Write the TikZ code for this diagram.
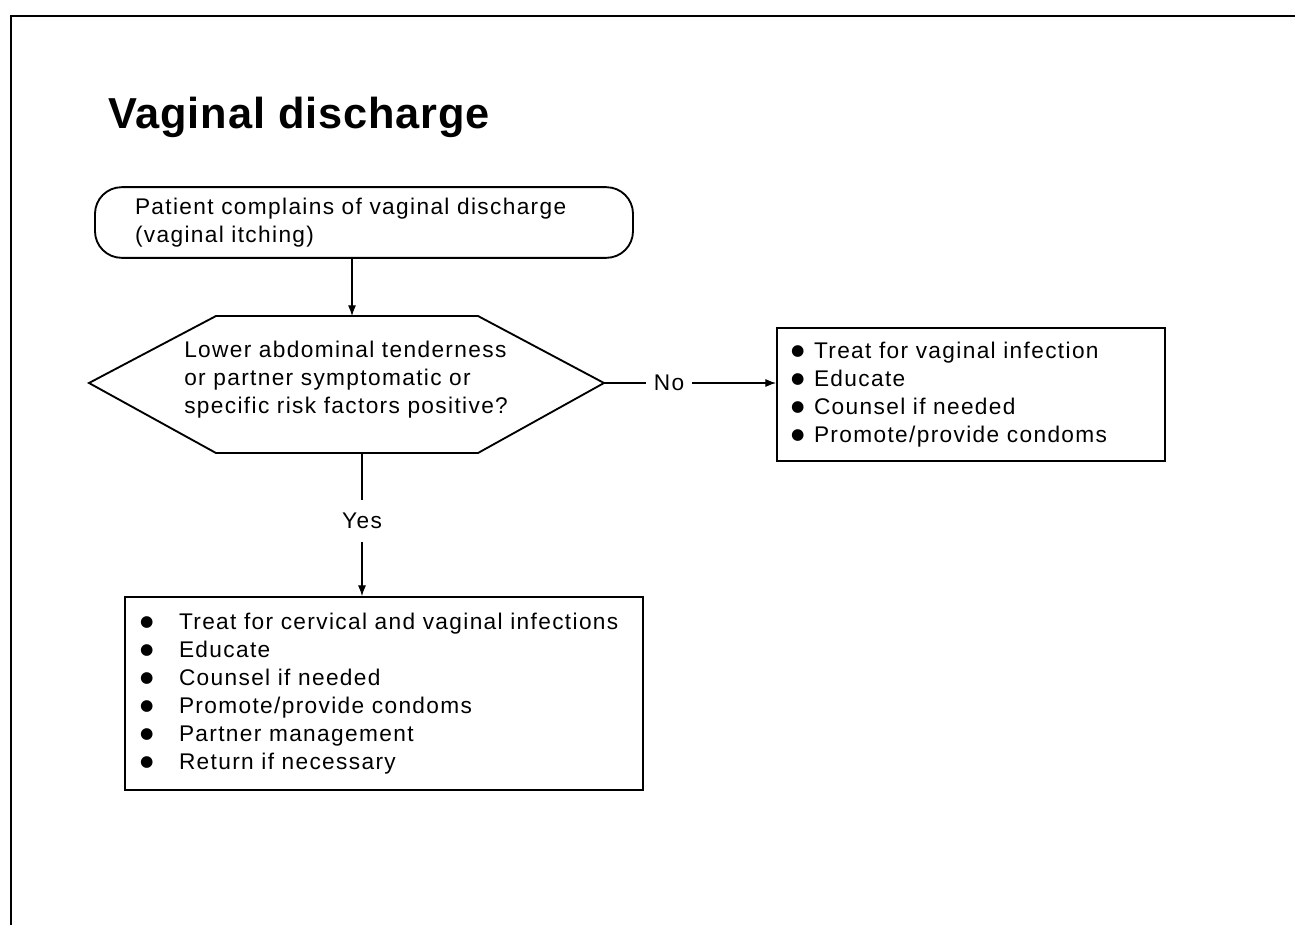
\documentclass[tikz,border=0pt]{standalone}
\usepackage{fontspec}
\setmainfont{Liberation Sans}[LetterSpace=6]
\newfontfamily\titlefont{Liberation Sans}[LetterSpace=2]
\newfontfamily\dotfont{DejaVu Sans}
\usetikzlibrary{arrows.meta}

% bullets with a fixed gap before the text
\newcommand{\bigbul}{\raisebox{2.2pt}{\dotfont\fontsize{11.5pt}{12pt}\selectfont ●}}
\newcommand{\nbul}{\makebox[17.25pt][l]{\bigbul}}
\newcommand{\wbul}{\makebox[29.25pt][l]{\bigbul}}

\tikzset{
  txt/.style={font=\fontsize{17pt}{21pt}\selectfont},
  frame/.style={draw, line width=1.4pt},
  roundbox/.style={frame, txt, rounded corners=20pt, align=left},
  listbox/.style={frame, txt, align=left, inner ysep=0pt},
  label/.style={txt, inner sep=0pt},
  arrow/.style={line width=0.8pt, -{Latex[length=8pt,width=6pt]}},
  link/.style={line width=0.8pt}
}

\begin{document}
\begin{tikzpicture}[x=0.75pt,y=0.75pt,yscale=-1,xscale=1]
\useasboundingbox (0,0) rectangle (1295,925);

%Page border, open at the right and bottom
\draw [line width=1.8pt] (11,925) -- (11,16) -- (1295,16) ;

% Title
\node [anchor=base west, inner sep=0pt, font=\titlefont\bfseries\fontsize{32.5pt}{36pt}\selectfont] (title) at (108,128) {Vaginal discharge};

%Rounded Rect: start
\node [roundbox, minimum width=403.5pt, minimum height=53pt, text width=343.5pt, inner xsep=30pt] (complaint) at (364,222.5)
  {Patient complains of vaginal discharge\\(vaginal itching)};

%Shape: Hexagon (decision)
\coordinate (qw) at (89,383);
\coordinate (qnw) at (216,316);
\coordinate (qne) at (478,316);
\coordinate (qe) at (604,383);
\coordinate (qse) at (478,453);
\coordinate (qsw) at (216,453);
\draw [frame] (qw) -- (qnw) -- (qne) -- (qe) -- (qse) -- (qsw) -- cycle ;
\node [label, anchor=west, text width=255pt, align=left] (question) at (184,380)
  {Lower abdominal tenderness\\or partner symptomatic or\\specific risk factors positive?};
\coordinate (qtop) at (352,316);
\coordinate (qbottom) at (362,453);

% No branch
\node [listbox, minimum width=291pt, minimum height=99.75pt, text width=270pt, inner xsep=10.5pt] (vaginal) at (971,394.5)
  {\nbul Treat for vaginal infection\\\nbul Educate\\\nbul Counsel if needed\\\nbul Promote/provide condoms};
\node [label, minimum width=34.5pt] (no) at (669,383) {No};

% Yes branch
\node [label, minimum height=31.5pt] (yes) at (362,521) {Yes};
\node [listbox, minimum width=388.5pt, minimum height=144.75pt, text width=366pt, inner xsep=11.25pt] (cervical) at (384,693.5)
  {\wbul Treat for cervical and vaginal infections\\\wbul Educate\\\wbul Counsel if needed\\\wbul Promote/provide condoms\\\wbul Partner management\\\wbul Return if necessary};

%Straight Lines
\draw [arrow] (complaint.south -| qtop) -- (qtop) ;
\draw [link] (qe) -- (no.west) ;
\draw [arrow] (no.east) -- (vaginal.west |- no.east) ;
\draw [link] (qbottom) -- (yes.north) ;
\draw [arrow] (yes.south) -- (yes.south |- cervical.north) ;

\end{tikzpicture}
\end{document}
